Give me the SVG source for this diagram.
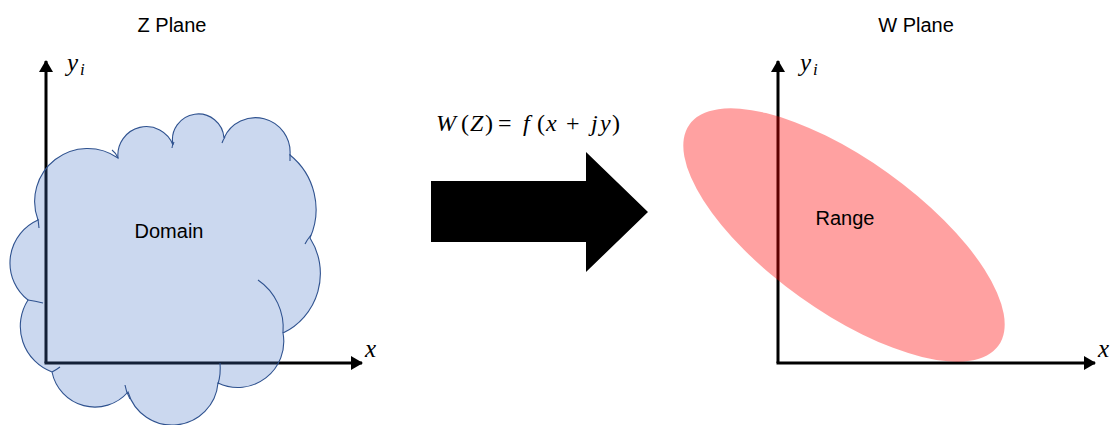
<svg xmlns="http://www.w3.org/2000/svg" width="1115" height="425" viewBox="0 0 1115 425">
<defs>
<style>
.lbl{font-family:"Liberation Sans",Arial,sans-serif;font-size:20px;fill:#000}
.math{font-family:"Liberation Serif","DejaVu Serif",serif;font-size:25px;fill:#000}
.eq{font-size:24px}
.it{font-style:italic}
.sub{font-size:17px}
.axis{stroke:#000;stroke-width:3;fill:none}
.cloud{fill:#4472C4;fill-opacity:0.28;stroke:#2F528F;stroke-width:1.1}
.hook{fill:none;stroke:#2F528F;stroke-width:1.1}
</style>
<marker id="ah" viewBox="0 0 12 14" refX="11" refY="7" markerWidth="12" markerHeight="14" markerUnits="userSpaceOnUse" orient="auto">
<path d="M0,0 L12,7 L0,14 Z" fill="#000"/>
</marker>
</defs>
<rect width="1115" height="425" fill="#fff"/>

<g id="z-plane-title"><text class="lbl" x="172" y="32" text-anchor="middle">Z Plane</text></g>
<g id="w-plane-title"><text class="lbl" x="916" y="32" text-anchor="middle">W Plane</text></g>

<g id="z-axes">
<path class="axis" d="M46,363 L46,61" marker-end="url(#ah)"/>
<path class="axis" d="M44.5,363 L362,363" marker-end="url(#ah)"/>
<text class="math it" x="67" y="71">y</text><text class="math it sub" x="80" y="75">i</text>
<text class="math it" x="365" y="357">x</text>
</g>

<g id="w-axes">
<path class="axis" d="M778,363 L778,61" marker-end="url(#ah)"/>
<path class="axis" d="M776.5,363 L1095,363" marker-end="url(#ah)"/>
<text class="math it" x="800" y="71">y</text><text class="math it sub" x="813" y="75">i</text>
<text class="math it" x="1098" y="357">x</text>
</g>

<g id="domain">
<path class="cloud" d="M38,220 A53,53 0 0 1 118,158 A28.5,28.5 0 0 1 173,145 A25.8,25.8 0 1 1 224,138 A34.6,34.6 0 0 1 290,155 A70,70 0 0 1 310,238 A66,66 0 0 1 283,333 A46,46 0 0 1 218,383 A46,46 0 0 1 128,392 A43.8,43.8 0 0 1 52,372 A48.8,48.8 0 0 1 28,300 A47,47 0 0 1 38,220 Z"/>
<path class="hook" d="M258,280 A58,58 0 0 1 283,333"/>
<path class="hook" d="M220,363 Q221,374 218,384"/>
<path class="hook" d="M125,385 Q126,392 130,399"/>
<path class="hook" d="M112,150 Q116,153 118,158"/>
<path class="hook" d="M172,148 Q172,146 174,142"/>
<path class="hook" d="M222,143 Q223,140 225,137"/>
<path class="hook" d="M290,161 L290,154"/>
<path class="hook" d="M305,244 Q307,240 311,235"/>
<path class="hook" d="M43,303 Q35,301 28,300"/>
<path class="hook" d="M60,367 Q56,370 52,372"/>
<path class="hook" d="M39,228 L38,219"/>
<text class="lbl" x="169" y="238" text-anchor="middle">Domain</text>
</g>

<g id="range">
<ellipse cx="844" cy="235" rx="190" ry="76" transform="rotate(35.6 844 235)" fill="#FF0000" fill-opacity="0.37"/>
<text class="lbl" x="845" y="225" text-anchor="middle">Range</text>
</g>

<g id="connectors">
<polygon id="mapping-arrow" points="431,181 586,181 586,152 648,212 586,272 586,242 431,242" fill="#000"/>
<text class="math eq" y="131"><tspan class="it" x="436">W</tspan><tspan x="461">(</tspan><tspan class="it" x="470">Z</tspan><tspan x="485">)</tspan><tspan x="498">=</tspan><tspan class="it" x="523">f</tspan><tspan x="537">(</tspan><tspan class="it" x="546">x</tspan><tspan x="566">+</tspan><tspan class="it" x="591">j</tspan><tspan class="it" x="600">y</tspan><tspan x="612">)</tspan></text>
</g>
</svg>
